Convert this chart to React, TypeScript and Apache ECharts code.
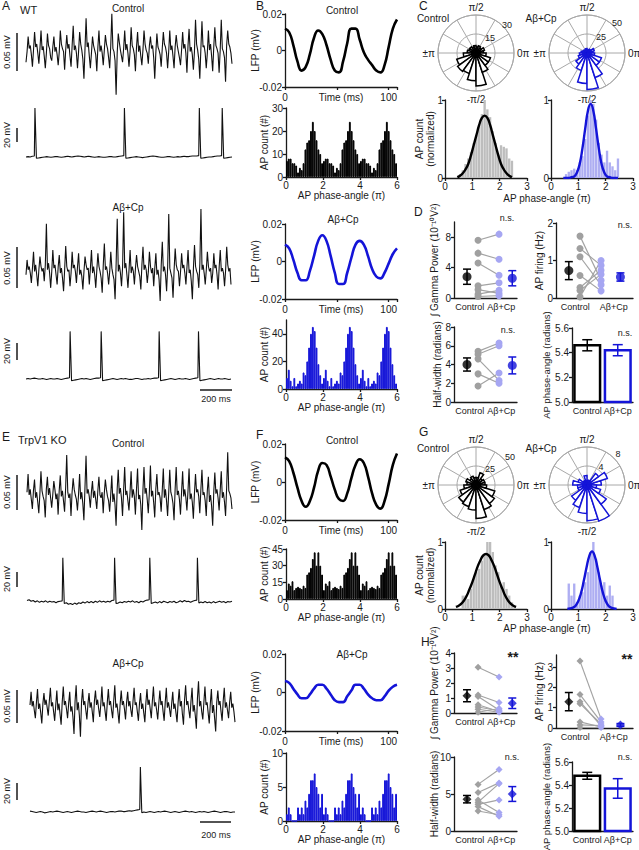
import React, { useEffect, useRef } from 'react';
import * as echarts from 'echarts';

const FONT = '"Liberation Sans", Arial, sans-serif';
const INK = '#1a1a1a';
const BLUE = '#1414d8';
const LAV = '#a6a6f2';
const GREY = '#a0a0a0';
const WEB = '#a8a8a8';

// ---------- Panel A / E : raw LFP traces (µV) ----------
const WT_CTRL_LFP_TRACE = [
  -12, 2, 22, 6, 10, -2, -18, 4, 28, 8, 12, 0, -14, 6, 30, 4, 9, -4, -20, 0, 26, 10, 6, -6,
  -10, 8, 22, 2, 8, -2, -16, 2, 30, 12, 6, 2, -22, 4, 24, 6, 12, -4, -18, 10, 36, 4, 10, 0,
  -20, 2, 28, 12, 4, -8, -34, 6, 46, 8, 14, -4, -20, 0, 22, 10, 4, -2, -24, 8, 30, 2, 10, 0,
  -16, 4, 24, 12, 6, -6, -20, 10, 52, 6, 2, -10, -55, 0, 26, 14, 4, -4, -12, 6, 30, 4, 12, 0,
  -18, 2, 34, 10, 6, -2, -24, 8, 28, 2, 10, -4, -16, 4, 30, 12, 4, 0, -14, 10, 22, 6, 10, -6,
  -34, 0, 26, 8, 4, -2, -18, 6, 28, 12, 8, 0, -20, 2, 30, 4, 10, -4, -20, 8, 24, 10, 2, -6,
  -16, 4, 28, 6, 12, 0, -26, 10, 32, 2, 8, -2, -22, 2, 44, 12, 4, -8, -34, 6, 42, 8, 10, 0,
  -20, 0, 30, 4, 12, -4, -24, 8, 34, 10, 6, 0, -26, 4, 44, 6, 2, -6, -38, 10, 30, 12, 8, 0, -14,
];
const WT_ABCP_LFP_TRACE = [
  0, 18, 6, 10, 2, -10, 8, 28, 4, 12, 0, -14, 6, 22, 10, 4, 8, -8, 12, 62, 6, 14, 2, -16,
  4, 30, 8, 12, 0, -12, 10, 24, 2, 8, -4, -20, 6, 35, 10, 4, 6, -14, 2, 28, 8, 12, 4, -10,
  10, 26, 0, 6, -2, -18, 4, 22, 12, 6, 8, -12, 8, 30, 2, 10, 0, -16, 6, 26, 10, 4, -4, -22,
  12, 38, 6, 10, 2, -12, 4, 28, 8, 0, -6, -30, 14, 68, 4, 12, 2, -14, 10, 76, 8, 14, 0, -16,
  6, 30, 2, 10, 4, -12, 8, 24, 10, 4, -2, -18, 12, 34, 6, 12, 6, -10, 4, 28, 10, 2, 8, -14,
  8, 26, 0, 6, -6, -32, 12, 40, 4, 10, 0, -20, 10, 74, 8, 2, -4, -28, 6, 32, 12, 6, 4, -14,
  4, 26, 8, 12, 2, -12, 10, 30, 2, 6, -8, -30, 8, 36, 10, 4, 0, -16, 14, 80, 6, 12, 2, -12,
  6, 28, 10, 4, 8, -10, 2, 26, 8, 12, 0, -18, 10, 30, 4, 8, 2, -14, 6, 34, 12, 4, 8, -12,
];
const KO_CTRL_LFP_TRACE = [
  4, 30, 0, 8, -6, -20, 6, 22, -4, 4, -10, -26, 2, 34, 6, -2, -8, -32, 8, 26, 0, 10, -4, -18,
  0, 20, 8, -6, 2, -28, 6, 28, -2, 6, -8, -24, 10, 57, 4, -4, 2, -30, 4, 24, 8, 0, -6, -22,
  0, 30, -6, 4, -12, -36, 10, 56, 2, 8, -2, -18, 4, 20, -4, 6, -6, -20, 6, 26, 0, -4, 4, -26,
  2, 22, 8, -2, -8, -24, 0, 28, -10, 2, -14, -44, 8, 36, 2, 10, -4, -30, 6, 40, 0, 6, -8, -22,
  4, 34, -4, 8, -2, -28, 8, 38, -6, 0, -14, -50, 6, 40, 2, 10, -6, -26, 4, 42, -2, 6, -10, -32,
  8, 30, 0, 4, -4, -24, 6, 38, -4, 8, -8, -30, 2, 36, 4, -2, -12, -36, 8, 40, 0, 6, -6, -28,
  4, 34, -2, 8, -4, -22, 6, 38, -6, 2, -10, -34, 2, 30, 4, 8, -2, -26, 8, 36, 0, 4, -8, -30,
  6, 26, -10, 0, -16, -44, 4, 32, 2, 8, -4, -22, 6, 34, -4, 4, -10, -30, 10, 61, 6, 2, -4, -20,
];
const KO_ABCP_LFP_TRACE = [
  0, 20, -2, 6, -8, -20, 4, 24, -6, 2, -12, -28, 2, 18, 0, 8, -4, -16, 6, 26, -2, 4, -10, -24,
  0, 22, -8, 2, -14, -30, 4, 28, 0, 6, -6, -20, 2, 20, -10, -2, -18, -44, 6, 30, -8, 4, -16, -48,
  4, 24, 0, 6, -8, -22, 2, 18, -4, 4, -10, -26, 6, 22, 0, 8, -6, -18, 2, 28, -2, 4, -10, -24,
  4, 24, 0, 6, -8, -20, 6, 30, -4, 2, -12, -28, 2, 22, 0, 6, -6, -22, 4, 20, -2, 6, -8, -18,
  6, 26, 0, 4, -10, -24, 2, 18, -6, 2, -12, -26, 4, 24, 0, 8, -6, -20, 6, 28, -2, 4, -8, -22,
  2, 22, 0, 6, -10, -24, 4, 26, -4, 4, -6, -18, 2, 20, -6, 2, -12, -26, 4, 24, -2, 6, -14, -30,
  8, 30, 0, 6, -8, -20, 6, 26, -10, 0, -16, -36, 10, 36, -2, 6, -10, -22, 4, 28, 0, 4, -12, -28,
  2, 24, -12, 0, -20, -40, 4, 22, 0, 6, -10, -24, 6, 26, -4, 4, -8, -20, 4, 20, -4, 2, -10, -26,
];

// ---------- Panel A / E : membrane potential baseline (mV) + AP sample indices ----------
const WT_CTRL_VM_BASE = [
  0, 0.5, 0, 1, 1.5, -2, -1.5, -1, -0.5, 0,
  0.5, 0, -0.5, 0, 0.5, 0.5, 0, -0.5, 0, 0.5,
  1, 0.5, 0, 0.5, 1, 1.5, 1, 0.5, 0, 0.5,
  1, 0.5, 0, -0.5, 0, 0.5, 0, -0.5, -0.5, 0,
  0.5, 0.5, 0, 0, 0.5, 1, 1.5, 2, -2, -1.5,
  -1, -0.5, 0, 0.5, 0, -0.5, -1, -0.5, 0, 0.5,
  1, 1.5, 1, 0.5, 0, -0.5, -0.5, 0, 0.5, 0.5,
  0, -0.5, 0, 0.5, 0, 0.5, 1, 0.5, 0.5, 1,
  1.5, 1.5, 1.5, 2, -2, -1.5, -1, -0.5, 0, 0,
  0.5, 1, 1.5, 1.5, 2, -2, -1.5, -1, -0.5, 0,
];
const WT_CTRL_SPIKES = [4, 47, 83, 94];
const WT_CTRL_SPIKE_PEAK = 73;
const WT_ABCP_VM_BASE = [
  0, 0.5, 0, 0.5, 1, 0.5, 0, 0, 0.5, 0,
  -0.5, 0, 0.5, 0, 0, 0.5, 0, -0.5, 0, 0.5,
  1, 1.5, -2, -1.5, -1, -0.5, 0, 0.5, 0, 0.5,
  0, -0.5, 0, 0.5, 1, 1, 1.5, -2, -1.5, -1,
  -0.5, 0, 0.5, 0, -0.5, 0, 0.5, 0, 0.5, 0,
  -0.5, -0.5, 0, 0.5, 0.5, 0, -0.5, 0, 0, 0.5,
  0, 0.5, 1, 1, 1.5, -2, -1.5, -1, -0.5, 0,
  0.5, 0, -0.5, 0, 0.5, 0, 0, 0.5, 0, -0.5,
  0, 0.5, 1, 1.5, -2, -1.5, -1, -0.5, 0, 0.5,
  0, -0.5, 0, 0.5, 0, 0, 0.5, 0, -0.5, 0,
];
const WT_ABCP_SPIKES = [21, 36, 64, 83];
const WT_ABCP_SPIKE_PEAK = 56;
const KO_CTRL_VM_BASE = [
  2, 3, 1, 2, 0, 1.5, -0.5, 1, 0, 1.5,
  -0.5, 1, 0, 0.5, -1, 0.5, 1, 1.5, -2, -1,
  -3, -2, -3.5, -1.5, -3, -1, -2, 0, -1.5, 0.5,
  -1, 0.5, -1, 1, -0.5, 1.5, 0, 1, -0.5, 1,
  0, 2, 2.5, -2, -1.5, 0, -1, 0.5, -0.5, 1,
  0, 1.5, -0.5, 0.5, -1, 1, 0, 1.5, 2.5, 3,
  -2, -1, 0, -1.5, 0.5, -1, 1, 0, -1, 0.5,
  -0.5, 1, -1, 0, 1.5, 0, 2, 0.5, 1, -0.5,
  1, 2, 2.5, -1.5, 0, -1, 0.5, -1, 0, -1.5,
  0.5, -1, 0, 1, -0.5, 0.5, -1, 0.5, 0, 1,
];
const KO_CTRL_SPIKES = [17, 42, 59, 82];
const KO_CTRL_SPIKE_PEAK = 59;
const KO_ABCP_VM_BASE = [
  1, 0.5, 0, -0.5, 0, 0.5, 0, -1, -0.5, 0,
  0.5, 0, 0.5, 1, 0.5, 0, -0.5, 0, 0.5, 0,
  -0.5, 0, 0.5, 1, 0.5, 0, 0, -0.5, 0, 0.5,
  1, 0.5, 0, 0.5, 1, 0.5, 0, -0.5, 0, 0.5,
  0.5, 0, 0.5, 1, 1, 0.5, 0.5, 1, 1.5, 1,
  1.5, 2, 2.5, 3, -1, 0, -0.5, 0, 0.5, 0,
  -0.5, 0, 0.5, 0, 0.5, 1, 0.5, 0, -0.5, 0,
  0.5, 0, -0.5, 0, 0.5, 1, 0.5, 0, 0.5, 0,
  -0.5, 0, 0.5, 0, 0.5, 0, -0.5, 0, 0.5, 1,
  0.5, 0, -0.5, 0, 0.5, 0.5, 0, -0.5, 0, 0,
];
const KO_ABCP_SPIKES = [53];
const KO_ABCP_SPIKE_PEAK = 53;

// ---------- Panel B / F : averaged LFP (mV) ----------
const LFP_T = [0, 4, 8, 12, 16, 20, 24, 28, 32, 36, 40, 44, 48, 52, 56, 60, 64, 68, 72, 76, 80, 84, 88, 92, 96, 100, 104, 108];
const WT_CTRL_LFP = [0.012, 0.01, 0.003, -0.006, -0.011, -0.009, -0.002, 0.007, 0.011, 0.009, 0.003, -0.005, -0.011, -0.012, -0.006, 0.004, 0.012, 0.012, 0.006, -0.001, -0.005, -0.008, -0.011, -0.012, -0.008, 0.002, 0.012, 0.017];
const WT_ABCP_LFP = [0.009, 0.007, 0.001, -0.006, -0.01, -0.01, -0.005, 0.003, 0.011, 0.014, 0.011, 0.003, -0.006, -0.012, -0.012, -0.006, 0.002, 0.009, 0.011, 0.009, 0.003, -0.004, -0.008, -0.009, -0.006, -0.001, 0.004, 0.007];
const KO_CTRL_LFP = [0.013, 0.011, 0.005, -0.003, -0.01, -0.013, -0.01, -0.003, 0.006, 0.01, 0.009, 0.003, -0.004, -0.009, -0.01, -0.006, 0.002, 0.009, 0.012, 0.01, 0.003, -0.006, -0.012, -0.014, -0.01, -0.001, 0.009, 0.015];
const KO_ABCP_LFP = [0.006, 0.005, 0.002, -0.001, -0.003, -0.003, -0.001, 0.002, 0.004, 0.004, 0.002, -0.001, -0.004, -0.005, -0.005, -0.002, 0.001, 0.004, 0.004, 0.002, -0.001, -0.003, -0.004, -0.004, -0.002, 0.001, 0.003, 0.004];

// AP counts per 0.1π phase bin over one cycle (0..2π); drawn over 3 cycles
const WT_CTRL_HIST = [7, 8, 8, 6, 6, 5, 2, 4, 3, 6, 12, 15, 16, 20, 24, 20, 16, 12, 10, 6];
const WT_ABCP_HIST = [8, 14, 6, 2, 8, 2, 4, 6, 4, 12, 10, 20, 30, 40, 45, 42, 30, 18, 10, 4];
const KO_CTRL_HIST = [8, 14, 12, 16, 8, 10, 11, 10, 9, 12, 10, 22, 24, 28, 36, 42, 30, 42, 30, 22];
const KO_ABCP_HIST = [1, 2, 1, 0, 0, 0, 2, 1, 2, 1, 3, 2, 4, 6, 6, 7, 5, 4, 2, 4];

// ---------- Panel C / G : rose plots (18° bins from 0 rad counter-clockwise) ----------
const WT_CTRL_ROSE = [6, 7, 5, 6, 5, 6, 5, 6, 6, 7, 10, 16, 18, 17, 22, 26, 16, 12, 12, 8];
const WT_ABCP_ROSE = [8, 10, 6, 5, 4, 6, 4, 5, 6, 8, 10, 12, 18, 24, 40, 48, 34, 20, 20, 10];
const KO_CTRL_ROSE = [12, 12, 10, 17, 10, 10, 12, 10, 14, 12, 16, 22, 28, 30, 33, 44, 34, 30, 26, 14];
const KO_ABCP_ROSE = [3, 4.5, 3, 1, 1, 2, 1, 1, 2, 3, 2, 2, 4, 5, 6, 7.5, 8, 5, 3, 2];

// normalized AP count, bins of 0.1π from 0 to 3π
const WT_CTRL_NORM = [0, 0, 0, 0, 0, 0.05, 0.1, 0.18, 0.25, 0.33, 0.45, 0.55, 0.68, 0.82, 1.0, 0.88, 0.78, 0.6, 0.45, 0.3, 0.42, 0.4, 0.38, 0.25, 0.22, 0, 0, 0, 0, 0];
const WT_ABCP_NORM = [0, 0, 0, 0, 0, 0.05, 0.08, 0.1, 0.12, 0.1, 0.2, 0.28, 0.5, 0.8, 1.0, 0.95, 0.75, 0.45, 0.3, 0.2, 0.35, 0.2, 0.15, 0.1, 0.25, 0, 0, 0, 0, 0];
const KO_CTRL_NORM = [0, 0, 0, 0, 0, 0, 0.2, 0.2, 0.15, 0.3, 0.45, 0.55, 0.6, 0.72, 0.8, 1.0, 1.0, 0.85, 0.65, 0.55, 0.35, 0.4, 0.3, 0.2, 0.1, 0.05, 0, 0, 0, 0];
const KO_ABCP_NORM = [0, 0, 0, 0, 0, 0, 0.38, 0.2, 0.38, 0.1, 0.2, 0.25, 0.4, 0.55, 0.85, 1.0, 0.75, 0.55, 0.35, 0.4, 0.2, 0.35, 0.2, 0, 0, 0, 0, 0, 0, 0];
// Gaussian fits (x in π, y normalized)
const WT_CTRL_FIT_X = [0.45, 0.55, 0.65, 0.75, 0.85, 0.95, 1.05, 1.15, 1.25, 1.35, 1.45, 1.55, 1.65, 1.75, 1.85, 1.95, 2.05, 2.15, 2.25, 2.35, 2.45];
const WT_CTRL_FIT_Y = [0.01, 0.03, 0.06, 0.11, 0.18, 0.29, 0.42, 0.55, 0.68, 0.77, 0.8, 0.77, 0.68, 0.55, 0.42, 0.29, 0.18, 0.11, 0.06, 0.03, 0.01];
const WT_ABCP_FIT_X = WT_CTRL_FIT_X;
const WT_ABCP_FIT_Y = [0, 0, 0, 0.01, 0.02, 0.07, 0.18, 0.38, 0.63, 0.86, 0.95, 0.86, 0.63, 0.38, 0.18, 0.07, 0.02, 0.01, 0, 0, 0];
const KO_CTRL_FIT_X = [0.4, 0.5, 0.6, 0.7, 0.8, 0.9, 1.0, 1.1, 1.2, 1.3, 1.4, 1.5, 1.6, 1.7, 1.8, 1.9, 2.0, 2.1, 2.2, 2.3, 2.4, 2.5, 2.6];
const KO_CTRL_FIT_Y = [0.03, 0.05, 0.08, 0.13, 0.2, 0.3, 0.4, 0.52, 0.64, 0.73, 0.8, 0.82, 0.8, 0.73, 0.64, 0.52, 0.4, 0.3, 0.2, 0.13, 0.08, 0.05, 0.03];
const KO_ABCP_FIT_X = [0.6, 0.7, 0.8, 0.9, 1.0, 1.1, 1.2, 1.3, 1.4, 1.5, 1.6, 1.7, 1.8, 1.9, 2.0, 2.1, 2.2, 2.3, 2.4];
const KO_ABCP_FIT_Y = [0, 0.01, 0.02, 0.05, 0.12, 0.24, 0.42, 0.62, 0.79, 0.86, 0.79, 0.62, 0.42, 0.24, 0.12, 0.05, 0.02, 0.01, 0];

// ---------- Panel D / H : summary statistics ----------
const GROUPS = ['Control', 'Aβ+Cp'];
const WT_GAMMA_CTRL = [7.6, 5.9, 4.6, 1.6, 1.1, 0.5, 0.2];
const WT_GAMMA_ABCP = [8.4, 5.1, 3.0, 2.0, 0.6, 1.0, 0.3];
const WT_GAMMA_MEAN = [2.8, 2.6];
const WT_GAMMA_SEM = [1.0, 1.0];
const WT_FIRING_CTRL = [1.65, 1.32, 1.1, 0.6, 0.28, 0.2, 0.03];
const WT_FIRING_ABCP = [0.47, 0.87, 0.35, 0.19, 0.74, 0.63, 1.0];
const WT_FIRING_MEAN = [0.73, 0.56];
const WT_FIRING_SEM = [0.24, 0.11];
const WT_HW_CTRL = [5.4, 5.1, 4.6, 3.0, 1.7];
const WT_HW_ABCP = [6.3, 6.0, 2.3, 2.0, 3.1];
const WT_HW_MEAN = [4.0, 3.9];
const WT_HW_SEM = [0.7, 0.9];
const WT_PHASE_MEAN = [5.46, 5.42];
const WT_PHASE_SEM = [0.045, 0.045];

const KO_GAMMA_CTRL = [3.05, 1.2, 1.1, 0.55, 0.4, 0.25, 0.05];
const KO_GAMMA_ABCP = [2.4, 0.7, 0.2, 0.1, 0.15, 0.05, 0.3];
const KO_GAMMA_MEAN = [1.15, 0.65];
const KO_GAMMA_SEM = [0.4, 0.35];
const KO_FIRING_CTRL = [3.3, 1.65, 1.3, 1.2, 0.3, 0.15, 0.03];
const KO_FIRING_ABCP = [0.45, 0.3, 0.1, 0.2, 0.05, 0.12, 0.02];
const KO_FIRING_MEAN = [1.3, 0.15];
const KO_FIRING_SEM = [0.45, 0.07];
const KO_HW_CTRL = [6.3, 5.2, 4.2, 3.9, 3.6, 3.3, 2.7];
const KO_HW_ABCP = [8.3, 6.5, 2.5, 6.4, 4.2, 2.0, 2.2];
const KO_HW_MEAN = [4.3, 5.0];
const KO_HW_SEM = [0.5, 1.0];
const KO_PHASE_MEAN = [5.48, 5.37];
const KO_PHASE_SEM = [0.03, 0.085];

const PHASE_MIN = 5.0;

function buildOption(): any {
  const grid: any[] = [];
  const xAxis: any[] = [];
  const yAxis: any[] = [];
  const series: any[] = [];
  const polar: any[] = [];
  const angleAxis: any[] = [];
  const radiusAxis: any[] = [];
  const gfx: any[] = [];

  const axisLine = { show: true, onZero: false, lineStyle: { color: INK, width: 1.3 } };
  const axisTick = { show: true, length: 3, lineStyle: { color: INK, width: 1.3 } };
  const label = (o: any = {}) => ({ fontSize: 10, color: INK, fontFamily: FONT, margin: 3, ...o });
  const nameStyle = { fontSize: 10, color: INK, fontFamily: FONT, lineHeight: 11 };

  const addGrid = (left: number, top: number, width: number, height: number) => {
    grid.push({ left, top, width, height, containLabel: false, outerBoundsMode: 'none' });
    return grid.length - 1;
  };
  const addX = (o: any) => { xAxis.push({ splitLine: { show: false }, nameMoveOverlap: false, ...o }); return xAxis.length - 1; };
  const addY = (o: any) => { yAxis.push({ splitLine: { show: false }, nameMoveOverlap: false, ...o }); return yAxis.length - 1; };

  const txt = (text: string, x: number, y: number, o: any = {}) => gfx.push({
    type: 'text', x, y, rotation: o.rot || 0, silent: true, z: 10,
    style: { text, fill: o.color || INK, fontSize: o.size || 10, fontFamily: FONT, fontWeight: o.weight || 'normal', align: o.align || 'center', verticalAlign: o.va || 'middle' },
  });
  const ln = (x1: number, y1: number, x2: number, y2: number, w = 1.5) => gfx.push({
    type: 'line', silent: true, z: 10, shape: { x1, y1, x2, y2 }, style: { stroke: INK, lineWidth: w },
  });

  const errorBars = (colors: string[], cap: number) => (params: any, api: any) => {
    const x = api.value(0);
    const p1 = api.coord([x, api.value(1)]);
    const p2 = api.coord([x, api.value(2)]);
    const st = { stroke: colors[params.dataIndex], lineWidth: 1.5 };
    return {
      type: 'group', children: [
        { type: 'line', shape: { x1: p1[0], y1: p1[1], x2: p2[0], y2: p2[1] }, style: st },
        { type: 'line', shape: { x1: p1[0] - cap, y1: p1[1], x2: p1[0] + cap, y2: p1[1] }, style: st },
        { type: 'line', shape: { x1: p2[0] - cap, y1: p2[1], x2: p2[0] + cap, y2: p2[1] }, style: st },
      ],
    };
  };

  // ---- raw traces ----
  const traceGrid = (n: number, left: number, right: number, top: number, height: number, min: number, max: number) => {
    const gi = addGrid(left, top, right - left, height);
    const xi = addX({ gridIndex: gi, type: 'value', min: 0, max: n - 1, show: false });
    const yi = addY({ gridIndex: gi, type: 'value', min, max, show: false });
    return { xi, yi };
  };
  const lineStyleTrace = { color: '#111', width: 1.1 };
  const lfpTrace = (vals: number[], left: number, right: number, top: number, height: number, min: number, max: number) => {
    const { xi, yi } = traceGrid(vals.length, left, right, top, height, min, max);
    series.push({
      type: 'line', xAxisIndex: xi, yAxisIndex: yi, data: vals.map((v, i) => [i, v]),
      symbol: 'none', showSymbol: false, silent: true, clip: false, lineStyle: lineStyleTrace,
    });
  };
  const vmTrace = (base: number[], spikes: number[], peak: number, left: number, right: number, top: number, height: number, min: number, max: number) => {
    const { xi, yi } = traceGrid(base.length, left, right, top, height, min, max);
    const data: number[][] = [];
    base.forEach((v, i) => {
      data.push([i, v]);
      if (spikes.includes(i)) data.push([i + 0.3, peak]);
    });
    series.push({
      type: 'line', xAxisIndex: xi, yAxisIndex: yi, data,
      symbol: 'none', showSymbol: false, silent: true, clip: false, lineStyle: lineStyleTrace,
    });
  };
  lfpTrace(WT_CTRL_LFP_TRACE, 26, 232, 10, 90, -62, 57);
  vmTrace(WT_CTRL_VM_BASE, WT_CTRL_SPIKES, WT_CTRL_SPIKE_PEAK, 26, 232, 101, 64, -12, 83.5);
  lfpTrace(WT_ABCP_LFP_TRACE, 26, 231, 200, 110, -43, 91);
  vmTrace(WT_ABCP_VM_BASE, WT_ABCP_SPIKES, WT_ABCP_SPIKE_PEAK, 26, 231, 320, 68, -10.6, 69.4);
  lfpTrace(KO_CTRL_LFP_TRACE, 27, 232, 440, 100, -64.3, 78.6);
  vmTrace(KO_CTRL_VM_BASE, KO_CTRL_SPIKES, KO_CTRL_SPIKE_PEAK, 27, 232, 545, 65, -10.7, 76);
  lfpTrace(KO_ABCP_LFP_TRACE, 30, 235, 670, 75, -60.6, 53);
  vmTrace(KO_ABCP_VM_BASE, KO_ABCP_SPIKES, KO_ABCP_SPIKE_PEAK, 30, 235, 755, 65, -9.4, 67);

  // ---- LFP averages ----
  const lfp = (vals: number[], color: string, top: number, height: number) => {
    const gi = addGrid(285, top, 112, height);
    const xi = addX({
      gridIndex: gi, type: 'value', min: 0, max: 108, interval: 50, axisLine, axisTick,
      axisLabel: label({ margin: 5, formatter: (v: number) => (v === 0 || v === 100 ? String(v) : '') }),
      name: 'Time (ms)', nameLocation: 'middle', nameGap: 5, nameTextStyle: nameStyle,
    });
    const yi = addY({
      gridIndex: gi, type: 'value', min: -0.02, max: 0.02, interval: 0.02, axisLine, axisTick,
      axisLabel: label({ formatter: (v: number) => (Math.abs(v) < 1e-9 ? '0' : v.toFixed(2)) }),
      name: 'LFP (mV)', nameLocation: 'middle', nameRotate: 90, nameGap: 24, nameTextStyle: nameStyle,
    });
    series.push({
      type: 'line', xAxisIndex: xi, yAxisIndex: yi, data: LFP_T.map((t, i) => [t, vals[i]]),
      smooth: true, symbol: 'none', showSymbol: false, silent: true, lineStyle: { color, width: 2.6 },
    });
  };
  lfp(WT_CTRL_LFP, '#000', 14, 73);
  lfp(WT_ABCP_LFP, BLUE, 224, 75);
  lfp(KO_CTRL_LFP, '#000', 444, 76);
  lfp(KO_ABCP_LFP, BLUE, 654, 77);

  // ---- AP phase histograms ----
  const HIST_CATS = Array.from({ length: 60 }, (_, i) => String(i));
  const hist = (bins: number[], color: string, top: number, height: number, max: number, interval: number) => {
    const gi = addGrid(286, top, 111, height);
    const xc = addX({ gridIndex: gi, type: 'category', data: HIST_CATS, show: false, position: 'bottom' });
    addX({
      gridIndex: gi, type: 'value', min: 0, max: 6, interval: 2, position: 'bottom', axisLine, axisTick,
      axisLabel: label({ margin: 3 }), name: 'AP phase-angle (π)', nameLocation: 'middle', nameGap: 13, nameTextStyle: nameStyle,
    });
    const yi = addY({
      gridIndex: gi, type: 'value', min: 0, max, interval, axisLine, axisTick,
      axisLabel: label({ showMaxLabel: max % interval === 0 }),
      name: 'AP count (#)', nameLocation: 'middle', nameRotate: 90, nameGap: 16, nameTextStyle: nameStyle,
    });
    series.push({
      type: 'bar', xAxisIndex: xc, yAxisIndex: yi, data: [...bins, ...bins, ...bins],
      barCategoryGap: '0%', silent: true, itemStyle: { color, borderColor: color, borderWidth: 1 },
    });
  };
  hist(WT_CTRL_HIST, '#000', 108, 69, 30, 10);
  hist(WT_ABCP_HIST, BLUE, 320, 69, 50, 20);
  hist(KO_CTRL_HIST, '#000', 549, 50, 45, 15);
  hist(KO_ABCP_HIST, BLUE, 753, 68, 10, 5);

  // ---- rose plots ----
  const ROSE_CATS = Array.from({ length: 20 }, (_, i) => String(i));
  const angleNames: Record<number, string> = { 0: '0π', 90: 'π/2', 180: '±π', 270: '-π/2' };
  const rose = (cx: number, cy: number, bins: number[], max: number, color: string) => {
    const r = 38;
    const pg = polar.length;
    polar.push({ center: [cx, cy], radius: [0, r] });
    angleAxis.push({
      polarIndex: pg, type: 'value', min: 0, max: 360, interval: 30, startAngle: 0, clockwise: false,
      axisLine: { show: true, lineStyle: { color: WEB, width: 1 } }, axisTick: { show: false },
      axisLabel: { fontSize: 10, color: INK, fontFamily: FONT, margin: 3, formatter: (v: number) => angleNames[v] || '' },
      splitLine: { show: true, lineStyle: { color: WEB, width: 1 } },
    });
    radiusAxis.push({
      polarIndex: pg, type: 'value', min: 0, max, interval: max / 2,
      axisLine: { show: false }, axisTick: { show: false }, axisLabel: { show: false },
      splitLine: { show: true, lineStyle: { color: WEB, width: 1 } },
    });
    const pb = polar.length;
    polar.push({ center: [cx, cy], radius: [0, r] });
    angleAxis.push({ polarIndex: pb, type: 'category', data: ROSE_CATS, startAngle: 0, clockwise: false, show: false });
    radiusAxis.push({ polarIndex: pb, type: 'value', min: 0, max, show: false });
    series.push({
      type: 'bar', coordinateSystem: 'polar', polarIndex: pb, data: bins, barCategoryGap: '0%', silent: true,
      itemStyle: { color: '#fff', borderColor: color, borderWidth: 1.5 },
    });
  };
  rose(476, 53, WT_CTRL_ROSE, 30, '#000');
  rose(587, 53, WT_ABCP_ROSE, 50, BLUE);
  rose(476, 485, KO_CTRL_ROSE, 50, '#000');
  rose(587, 485, KO_ABCP_ROSE, 8, BLUE);

  // ---- normalized histograms with fits ----
  const NORM_CATS = Array.from({ length: 30 }, (_, i) => String(i));
  const norm = (left: number, top: number, height: number, bins: number[], barColor: string, fx: number[], fy: number[], lineColor: string, withName: boolean) => {
    const gi = addGrid(left, top, 82, height);
    const xc = addX({ gridIndex: gi, type: 'category', data: NORM_CATS, show: false, position: 'bottom' });
    const xv = addX({ gridIndex: gi, type: 'value', min: 0, max: 3, interval: 1, position: 'bottom', axisLine, axisTick, axisLabel: label({ margin: 3 }) });
    const yi = addY({
      gridIndex: gi, type: 'value', min: 0, max: 1, interval: 1, axisLine, axisTick, axisLabel: label({ margin: 2 }),
      name: withName ? 'AP count\n(normalized)' : '', nameLocation: 'middle', nameRotate: 90, nameGap: 9, nameTextStyle: nameStyle,
    });
    series.push({ type: 'bar', xAxisIndex: xc, yAxisIndex: yi, data: bins, barCategoryGap: '14%', silent: true, itemStyle: { color: barColor } });
    series.push({
      type: 'line', xAxisIndex: xv, yAxisIndex: yi, data: fx.map((x, i) => [x, fy[i]]), smooth: true,
      symbol: 'none', showSymbol: false, silent: true, lineStyle: { color: lineColor, width: 2.4 }, z: 3,
    });
  };
  norm(445, 100, 78, WT_CTRL_NORM, '#bdbdbd', WT_CTRL_FIT_X, WT_CTRL_FIT_Y, '#000', true);
  norm(551, 100, 78, WT_ABCP_NORM, '#aeaef2', WT_ABCP_FIT_X, WT_ABCP_FIT_Y, BLUE, false);
  norm(445, 542, 67, KO_CTRL_NORM, '#bdbdbd', KO_CTRL_FIT_X, KO_CTRL_FIT_Y, '#000', true);
  norm(551, 542, 67, KO_ABCP_NORM, '#aeaef2', KO_ABCP_FIT_X, KO_ABCP_FIT_Y, BLUE, false);

  // ---- paired scatter plots ----
  const catAxis = (gi: number) => addX({
    gridIndex: gi, type: 'category', data: GROUPS, position: 'bottom', axisLine, axisTick: { show: false },
    axisLabel: label({ margin: 4, interval: 0, hideOverlap: false, fontSize: 9 }),
  });
  const pair = (p: any) => {
    const gi = addGrid(p.left, p.top, p.width, p.height);
    catAxis(gi);
    const xv = addX({ gridIndex: gi, type: 'value', min: 0, max: 6, show: false, position: 'bottom' });
    const yi = addY({
      gridIndex: gi, type: 'value', min: 0, max: p.max, interval: p.interval, axisLine, axisTick,
      axisLabel: label({ showMaxLabel: p.showMax }),
      name: p.name, nameLocation: 'middle', nameRotate: 90, nameGap: p.nameGap, nameTextStyle: nameStyle,
    });
    p.ctrl.forEach((c: number, i: number) => {
      series.push({
        type: 'line', xAxisIndex: xv, yAxisIndex: yi, silent: true, z: 2,
        data: [{ value: [p.xs[1], c], itemStyle: { color: GREY } }, { value: [p.xs[2], p.ab[i]], itemStyle: { color: LAV } }],
        symbol: p.symbol, symbolSize: 7, showSymbol: true, lineStyle: { color: '#a3a3a3', width: 1.2 }, itemStyle: { color: GREY },
      });
    });
    series.push({
      type: 'custom', xAxisIndex: xv, yAxisIndex: yi, silent: true, z: 3, clip: false, encode: { x: 0, y: [1, 2] },
      data: [[p.xs[0], p.mean[0] - p.sem[0], p.mean[0] + p.sem[0]], [p.xs[3], p.mean[1] - p.sem[1], p.mean[1] + p.sem[1]]],
      renderItem: errorBars(['#000', BLUE], 4),
    });
    series.push({
      type: 'scatter', xAxisIndex: xv, yAxisIndex: yi, silent: true, z: 4, symbol: p.symbol, symbolSize: 9,
      data: [{ value: [p.xs[0], p.mean[0]], itemStyle: { color: '#000' } }, { value: [p.xs[3], p.mean[1]], itemStyle: { color: BLUE } }],
    });
  };
  const XS_L = [1.24, 2.29, 4.29, 5.55];
  const XS_R = [1.0, 1.87, 3.51, 5.02];
  const GAMMA_NAME = '∫ Gamma Power (10⁻¹⁰V²)';
  pair({ left: 454, top: 222, width: 63, height: 76, max: 10, interval: 4, showMax: false, ctrl: WT_GAMMA_CTRL, ab: WT_GAMMA_ABCP, mean: WT_GAMMA_MEAN, sem: WT_GAMMA_SEM, xs: XS_L, symbol: 'circle', name: GAMMA_NAME, nameGap: 14 });
  pair({ left: 556, top: 223, width: 77, height: 75, max: 2, interval: 1, showMax: true, ctrl: WT_FIRING_CTRL, ab: WT_FIRING_ABCP, mean: WT_FIRING_MEAN, sem: WT_FIRING_SEM, xs: XS_R, symbol: 'circle', name: 'AP firing (Hz)', nameGap: 11 });
  pair({ left: 454, top: 327, width: 63, height: 75, max: 8, interval: 2, showMax: true, ctrl: WT_HW_CTRL, ab: WT_HW_ABCP, mean: WT_HW_MEAN, sem: WT_HW_SEM, xs: XS_L, symbol: 'circle', name: 'Half-width (radians)', nameGap: 11 });
  pair({ left: 454, top: 653, width: 63, height: 60, max: 4, interval: 1, showMax: true, ctrl: KO_GAMMA_CTRL, ab: KO_GAMMA_ABCP, mean: KO_GAMMA_MEAN, sem: KO_GAMMA_SEM, xs: XS_L, symbol: 'diamond', name: GAMMA_NAME, nameGap: 14 });
  pair({ left: 556, top: 655, width: 77, height: 73, max: 3.6, interval: 1, showMax: false, ctrl: KO_FIRING_CTRL, ab: KO_FIRING_ABCP, mean: KO_FIRING_MEAN, sem: KO_FIRING_SEM, xs: XS_R, symbol: 'diamond', name: 'AP firing (Hz)', nameGap: 11 });
  pair({ left: 454, top: 757, width: 63, height: 74, max: 10, interval: 5, showMax: true, ctrl: KO_HW_CTRL, ab: KO_HW_ABCP, mean: KO_HW_MEAN, sem: KO_HW_SEM, xs: XS_L, symbol: 'diamond', name: 'Half-width (radians)', nameGap: 14 });

  // ---- phase-angle bar plots ----
  const phase = (left: number, top: number, width: number, height: number, mean: number[], sem: number[]) => {
    const gi = addGrid(left, top, width, height);
    const xc = catAxis(gi);
    const yi = addY({
      gridIndex: gi, type: 'value', min: PHASE_MIN, max: 5.6, interval: 0.2, axisLine, axisTick,
      axisLabel: label({ formatter: (v: number) => v.toFixed(1) }),
      name: 'AP phase-angle (radians)', nameLocation: 'middle', nameRotate: 90, nameGap: 20,
      nameTextStyle: { ...nameStyle, fontSize: 9.5 },
    });
    const colors = ['#000', BLUE];
    series.push({
      type: 'custom', xAxisIndex: xc, yAxisIndex: yi, silent: true, z: 2, clip: false,
      data: mean.map((m, i) => [i, m]),
      renderItem: (params: any, api: any) => {
        const i = api.value(0);
        const t = api.coord([i, api.value(1)]);
        const b = api.coord([i, PHASE_MIN]);
        const bw = api.size([1, 0])[0] * 0.84;
        return { type: 'rect', shape: { x: t[0] - bw / 2, y: t[1], width: bw, height: b[1] - t[1] }, style: { fill: '#fff', stroke: colors[params.dataIndex], lineWidth: 2.5 } };
      },
    });
    series.push({
      type: 'custom', xAxisIndex: xc, yAxisIndex: yi, silent: true, z: 3, clip: false,
      data: mean.map((m, i) => [i, m - sem[i], m + sem[i]]),
      renderItem: errorBars(['#000', BLUE], 5),
    });
  };
  phase(572, 328, 61, 74, WT_PHASE_MEAN, WT_PHASE_SEM);
  phase(572, 762, 61, 69, KO_PHASE_MEAN, KO_PHASE_SEM);

  // ---- annotations ----
  const L = { align: 'left', va: 'top', size: 12 };
  txt('A', 2, 0, L); txt('B', 256, 0, L); txt('C', 419, 0, L); txt('D', 414, 206, L);
  txt('E', 2, 431, L); txt('F', 256, 429, L); txt('G', 419, 426, L); txt('H', 421, 636, L);
  txt('WT', 20, 10, { align: 'left', size: 11 });
  txt('Control', 128, 8); txt('Aβ+Cp', 128, 207);
  txt('TrpV1 KO', 18, 440, { align: 'left', size: 11 });
  txt('Control', 128, 443); txt('Aβ+Cp', 128, 663);
  txt('Control', 342, 10); txt('Aβ+Cp', 343, 219);
  txt('Control', 342, 440); txt('Aβ+Cp', 352, 654);
  txt('Control', 433, 18); txt('Aβ+Cp', 541, 18);
  txt('Control', 433, 448); txt('Aβ+Cp', 541, 448);
  txt('15', 490, 38, { size: 9 }); txt('30', 507, 25, { size: 9 });
  txt('25', 601, 37, { size: 9 }); txt('50', 617, 23, { size: 9 });
  txt('25', 490, 469, { size: 9 }); txt('50', 510, 457, { size: 9 });
  txt('4', 601, 467, { size: 9 }); txt('8', 618, 454, { size: 9 });
  txt('AP phase-angle (π)', 547, 198); txt('AP phase-angle (π)', 547, 628);
  txt('n.s.', 507, 218, { size: 9 }); txt('n.s.', 625, 225, { size: 9 });
  txt('n.s.', 508, 330, { size: 9 }); txt('n.s.', 625, 333, { size: 9 });
  txt('**', 513, 657, { size: 14, weight: 'bold' }); txt('**', 627, 659, { size: 14, weight: 'bold' });
  txt('n.s.', 512, 757, { size: 9 }); txt('n.s.', 625, 757, { size: 9 });
  // scale bars
  const R = Math.PI / 2;
  ln(17, 33, 17, 71); txt('0.05 mV', 7, 52, { rot: R, size: 9 });
  ln(17, 128, 17, 142); txt('20 mV', 7, 135, { rot: R, size: 9 });
  ln(17, 247, 17, 288); txt('0.05 mV', 7, 268, { rot: R, size: 9 });
  ln(17, 343, 17, 360); txt('20 mV', 7, 351, { rot: R, size: 9 });
  ln(200, 390, 232, 390); txt('200 ms', 216, 399, { size: 9 });
  ln(17, 475, 17, 510); txt('0.05 mV', 7, 492, { rot: R, size: 9 });
  ln(17, 572, 17, 587); txt('20 mV', 7, 579, { rot: R, size: 9 });
  ln(17, 690, 17, 723); txt('0.05 mV', 7, 706, { rot: R, size: 9 });
  ln(17, 783, 17, 800); txt('20 mV', 7, 791, { rot: R, size: 9 });
  ln(200, 822, 231, 822); txt('200 ms', 216, 835, { size: 9 });

  return {
    animation: false,
    backgroundColor: '#fff',
    textStyle: { fontFamily: FONT },
    grid, xAxis, yAxis, polar, angleAxis, radiusAxis, series,
    graphic: { elements: gfx },
  };
}

export default function App() {
  const ref = useRef<HTMLDivElement>(null);
  useEffect(() => {
    document.body.style.margin = '0';
    const chart = echarts.init(ref.current as HTMLDivElement, null, { renderer: 'svg', width: 639, height: 850 });
    chart.setOption(buildOption());
    return () => chart.dispose();
  }, []);
  return <div ref={ref} style={{ position: 'absolute', left: 0, top: 0, width: 639, height: 850, background: '#fff' }} />;
}
